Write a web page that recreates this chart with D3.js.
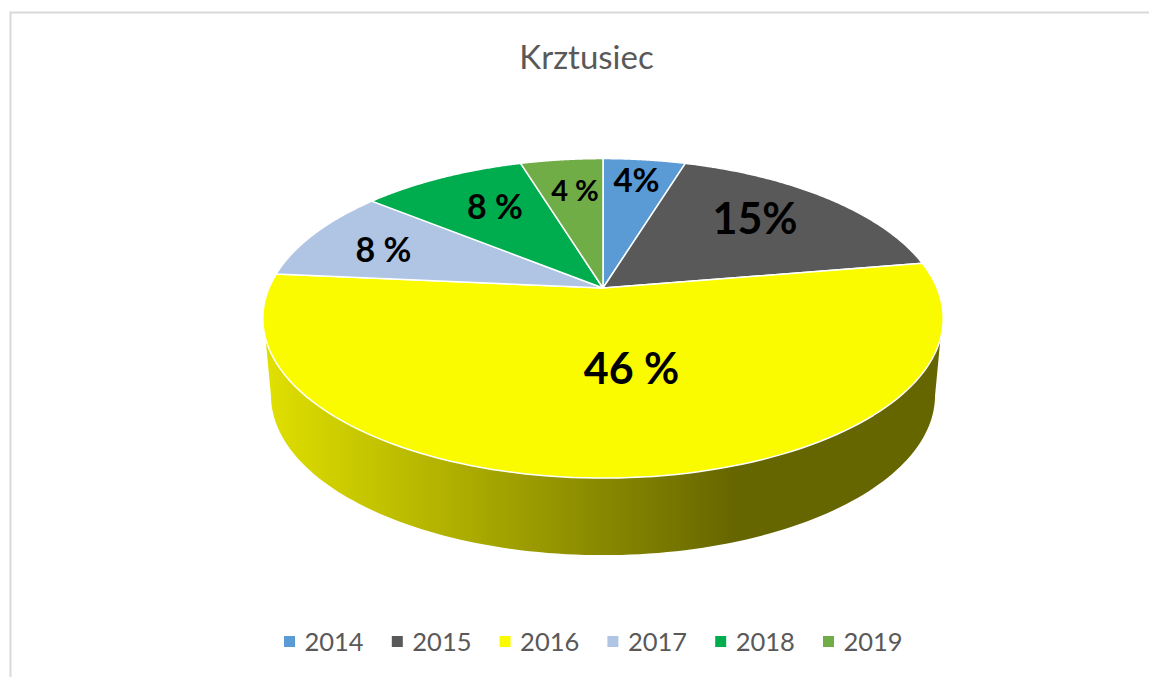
<!DOCTYPE html>
<html><head><meta charset="utf-8">
<script src="https://cdn.jsdelivr.net/npm/d3@7/dist/d3.min.js"></script>
<style>html,body{margin:0;padding:0;background:#fff;overflow:hidden}svg{display:block}text{font-family:Lato,"Open Sans",sans-serif}</style>
</head><body><svg id="c" width="1149" height="677"></svg>
<script>
const title = "Krztusiec";
const years = ["2014","2015","2016","2017","2018","2019"];
const values = [4,15,46,8,8,4];
const labels = ["4%","15%","46 %","8 %","8 %","4 %"];
const colors = ["#5b9bd5","#595959","#fbfb00","#b0c4e3","#00ad4e","#70ad47"];
const labelSizes = [33,43,43,34,34,29];
const labelOffsets = [[33.5,-95],[152,-53],[28.5,97],[-219.5,-25],[-108,-68],[-28,-86]];

const svg = d3.select("#c");
const toRad = Math.PI/180;
const persp = 0.19;
function projector(cx, cy, B, A){
  return (theta, r=1) => {
    const u = r*Math.sin(theta), v = -r*Math.cos(theta), w = 1 - persp*v;
    return [cx + B*u/w, cy + A*v/w];
  };
}
const topFace = projector(603,288,334,154);
const bottomFace = projector(603,365,326,154);
const arcPts = (f,a,b) => d3.range(0,121).map(i => f(a+(b-a)*i/120));
const line = d3.line();

// frame
svg.append("path").attr("d","M10.5,677V12.5H1149").attr("fill","none").attr("stroke","#d9d9d9").attr("stroke-width",2);

// side gradient
const grad = svg.append("defs").append("linearGradient").attr("id","side")
  .attr("gradientUnits","userSpaceOnUse").attr("x1",265).attr("x2",940).attr("y1",0).attr("y2",0);
[[0,"#e0e000"],[0.695,"#666600"],[1,"#666600"]].forEach(s=>grad.append("stop").attr("offset",s[0]).attr("stop-color",s[1]));

const side = arcPts(topFace,108*toRad,252*toRad).concat(arcPts(bottomFace,101*toRad,259*toRad).reverse());
svg.append("path").attr("d",line(side)+"Z").attr("fill","url(#side)");

// top slices
const arcs = d3.pie().sort(null)(values);
const sliceG = svg.append("g");
sliceG.selectAll("path").data(arcs).join("path")
  .attr("d",d => line([topFace(0,0)].concat(arcPts(topFace,d.startAngle,d.endAngle)))+"Z")
  .attr("fill",(d,i)=>colors[i]).attr("stroke","#fff").attr("stroke-width",1.5).attr("stroke-linejoin","round");

// labels
svg.append("g").selectAll("text").data(labels).join("text")
  .attr("x",(d,i)=>603+labelOffsets[i][0]).attr("y",(d,i)=>287+labelOffsets[i][1])
  .attr("text-anchor","middle").attr("font-weight",700).attr("font-size",(d,i)=>labelSizes[i])
  .attr("fill","#000").text(d=>d);

// title
svg.append("text").attr("x",586.5).attr("y",69).attr("text-anchor","middle").attr("font-size",33).attr("fill","#595959").text(title);

// legend
const lx = d3.scalePoint().domain(years).range([284,823]);
const leg = svg.append("g").selectAll("g").data(years).join("g").attr("transform",d=>`translate(${lx(d)},0)`);
leg.append("rect").attr("x",0).attr("y",636).attr("width",11).attr("height",11).attr("fill",(d,i)=>colors[i]);
leg.append("text").attr("x",20.5).attr("y",651).attr("font-size",25.5).attr("fill","#595959").text(d=>d);
</script></body></html>
